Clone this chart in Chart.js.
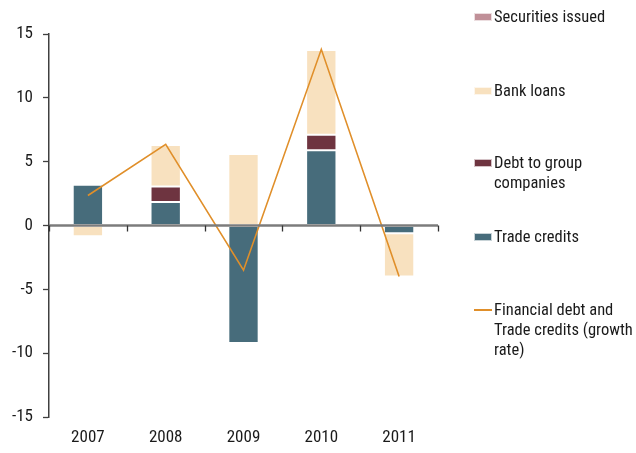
<!DOCTYPE html>
<html>
<head>
<meta charset="utf-8">
<script src="https://cdn.jsdelivr.net/npm/chart.js@4.4.1/dist/chart.umd.min.js"></script>
<style>
    html, body { margin: 0; padding: 0; background: #ffffff; }
    #wrap { position: relative; width: 636px; height: 453px; }
    #legend { position: absolute; left: 474px; top: 0; font-family: "Roboto Condensed", "Liberation Sans", Arial, sans-serif; font-size: 16.5px; color: #1a1a1a; }
    .item { position: absolute; left: 0; white-space: nowrap; line-height: 20px; }
    .item .mark { position: absolute; left: 0; top: 6px; width: 18px; height: 8px; box-sizing: border-box; border: 1px solid rgba(255,255,255,0.7); }
    .item .mark.line { top: 9px; height: 1.5px; border: none; }
    .item .text { position: absolute; left: 20px; top: 0; }
</style>
</head>
<body>
<div id="wrap">
    <canvas id="chart" width="636" height="453"></canvas>
    <div id="legend"></div>
</div>
<script>
const years = ["2007", "2008", "2009", "2010", "2011"];
const tradeCredits = [3.2, 1.85, -9.2, 5.9, -0.6];
const debtToGroup = [0, 1.2, 0, 1.2, 0];
const bankLoans = [-0.85, 3.25, 5.6, 6.65, -3.4];
const securitiesIssued = [0, 0, 0, 0, 0];
const growthRate = [2.35, 6.35, -3.5, 13.8, -4.0];
const yTicks = [-15, -10, -5, 0, 5, 10, 15];

const colors = {
    trade: "#476c7b",
    debt: "#6e3440",
    bank: "#f8e1bf",
    securities: "#c09098",
    line: "#e08f2a",
};

// legend entries, top position of first text line on the page
const legendItems = [
    { lines: ["Securities issued"], color: colors.securities, top: 7 },
    { lines: ["Bank loans"], color: colors.bank, top: 81 },
    { lines: ["Debt to group", "companies"], color: colors.debt, top: 153 },
    { lines: ["Trade credits"], color: colors.trade, top: 227 },
    { lines: ["Financial debt and", "Trade credits (growth", "rate)"], color: colors.line, top: 300, isLine: true },
];

const legendEl = document.getElementById("legend");
legendItems.forEach((entry) => {
    const item = document.createElement("div");
    item.className = "item";
    item.style.top = entry.top + "px";
    const mark = document.createElement("span");
    mark.className = entry.isLine ? "mark line" : "mark";
    mark.style.background = entry.color;
    const text = document.createElement("span");
    text.className = "text";
    text.innerHTML = entry.lines.join("<br>");
    item.appendChild(mark);
    item.appendChild(text);
    legendEl.appendChild(item);
});

// zero axis line with small tick marks at category boundaries
const zeroAxis = {
    id: "zeroAxis",
    afterDatasetsDraw(chart) {
        const { ctx, scales: { x, y }, chartArea } = chart;
        const y0 = y.getPixelForValue(0);
        ctx.save();
        ctx.strokeStyle = "#7c7c7c";
        ctx.lineWidth = 2.5;
        ctx.beginPath();
        ctx.moveTo(chartArea.left, y0);
        ctx.lineTo(chartArea.right, y0);
        ctx.stroke();
        ctx.strokeStyle = "#333333";
        ctx.lineWidth = 1.3;
        for (let i = 0; i <= years.length; i++) {
            const px = Math.round(x.getPixelForValue(i - 0.5)) + 0.5;
            ctx.beginPath();
            ctx.moveTo(px, y0);
            ctx.lineTo(px, y0 + 6);
            ctx.stroke();
        }
        ctx.restore();
    },
};

Chart.defaults.font.family = "'Roboto Condensed', 'Liberation Sans', Arial, sans-serif";
Chart.defaults.font.size = 17;
Chart.defaults.color = "#1a1a1a";

const barStyle = { borderColor: "rgba(255,255,255,0.75)", borderWidth: 1, borderSkipped: false, order: 1, stack: "bars" };

new Chart(document.getElementById("chart"), {
    data: {
        labels: years,
        datasets: [
            { type: "bar", label: "Trade credits", data: tradeCredits, backgroundColor: colors.trade, ...barStyle },
            { type: "bar", label: "Debt to group companies", data: debtToGroup, backgroundColor: colors.debt, ...barStyle },
            { type: "bar", label: "Bank loans", data: bankLoans, backgroundColor: colors.bank, ...barStyle },
            { type: "bar", label: "Securities issued", data: securitiesIssued, backgroundColor: colors.securities, ...barStyle },
            {
                type: "line",
                label: "Financial debt and Trade credits (growth rate)",
                data: growthRate,
                borderColor: colors.line,
                borderWidth: 1.6,
                pointRadius: 0,
                tension: 0,
                order: 0,
                stack: "line",
            },
        ],
    },
    options: {
        responsive: false,
        animation: false,
        devicePixelRatio: 1,
        categoryPercentage: 1,
        barPercentage: 0.39,
        layout: { padding: { left: 0, right: 198, top: 34, bottom: 6 } },
        plugins: { legend: { display: false }, tooltip: { enabled: false } },
        scales: {
            x: {
                stacked: true,
                grid: { display: false, drawTicks: false },
                border: { display: false },
                ticks: { padding: 11 },
                afterFit: (axis) => { axis.height = 30; },
            },
            y: {
                stacked: true,
                min: -15,
                max: 15,
                afterBuildTicks: (axis) => {
                    axis.ticks = yTicks.map((value) => ({ value }));
                },
                grid: { drawOnChartArea: false, tickLength: 6, tickColor: "#404040", tickWidth: 1.3 },
                border: { color: "#404040", width: 1.5 },
                ticks: { padding: 10 },
                afterFit: (axis) => { axis.width = 49; },
            },
        },
    },
    plugins: [zeroAxis],
});
</script>
</body>
</html>
